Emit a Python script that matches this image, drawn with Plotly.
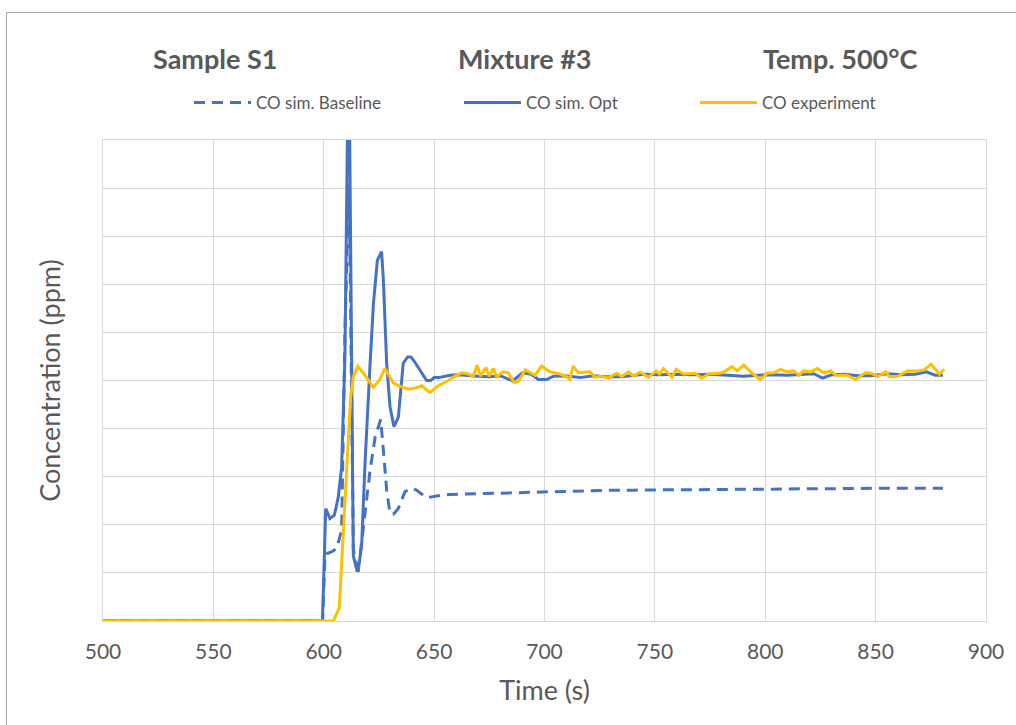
import plotly.graph_objects as go

# ---- data -------------------------------------------------------------
# CO simulation, baseline mechanism
base_t = [500, 599.5, 600.6, 602.0, 604.0, 605.9, 608.1, 609.6, 611.5, 613.4,
          615.4, 617.9, 621.0, 623.3, 625.8, 627.3, 628.5, 630.0, 631.5, 633.8,
          636.8, 639.8, 642.0, 646.6, 651.1, 657.2, 665.0, 672.3, 680, 690,
          700, 710, 720, 730, 740, 750, 760, 770, 780, 790,
          800, 810, 820, 830, 840, 850, 860, 870, 880.5]
base_v = [0, 0, 1.41, 1.41, 1.45, 1.51, 1.89, 6.05, 9.1, 1.5,
          0.95, 1.96, 3.14, 3.83, 4.19, 3.4, 2.72, 2.24, 2.22, 2.34,
          2.69, 2.76, 2.72, 2.56, 2.6, 2.63, 2.64, 2.65, 2.66, 2.67,
          2.68, 2.7, 2.71, 2.72, 2.72, 2.73, 2.73, 2.73, 2.74, 2.74,
          2.74, 2.75, 2.75, 2.75, 2.76, 2.76, 2.76, 2.76, 2.76]

# CO simulation, optimised mechanism
opt_t = [500, 599.4, 600.9, 602.8, 604.8, 606.6, 608.1, 609.6, 611.3, 613.4,
         614.8, 616.2, 617.2, 618.7, 621.0, 622.5, 624.3, 626.2, 627.0, 628.5,
         630.0, 631.8, 633.8, 636.0, 638.0, 639.5, 641.0, 643.6, 646.6, 648.5,
         650.0, 652.0, 657.2, 661.0, 666.0, 670.0, 675.0, 680.0, 685.6, 690.0,
         694.0, 697.2, 701.0, 704.0, 709.0, 716.1, 722.0, 728.0, 735.0, 745.0,
         752.0, 760.0, 767.0, 775.0, 783.0, 790.0, 797.0, 803.0, 810.0, 818.0,
         822.0, 825.9, 830.0, 836.0, 842.0, 848.0, 855.0, 862.0, 868.0, 873.0,
         877.0, 880.5]
opt_v = [0, 0, 2.34, 2.13, 2.2, 2.58, 3.2, 5.5, 12.5, 1.35,
         1.1, 1.25, 1.6, 3.28, 5.36, 6.6, 7.5, 7.68, 7.1, 5.36,
         4.46, 4.04, 4.24, 5.36, 5.49, 5.49, 5.4, 5.22, 5.0, 5.0,
         5.06, 5.06, 5.11, 5.12, 5.1, 5.09, 5.08, 5.1, 4.99, 5.16,
         5.13, 5.02, 5.02, 5.09, 5.1, 5.06, 5.1, 5.08, 5.08, 5.13,
         5.12, 5.13, 5.12, 5.13, 5.11, 5.09, 5.11, 5.12, 5.11, 5.12,
         5.14, 5.05, 5.12, 5.13, 5.1, 5.1, 5.14, 5.12, 5.13, 5.18,
         5.11, 5.11]

# CO measured
exp_t = [500, 604.3, 607.0, 608.9, 610.7, 612.2, 613.4, 615.4, 618.7, 622.4,
         625.2, 627.7, 631.5, 634.5, 638.3, 641.0, 644.4, 648.1, 651.9, 655.7,
         659.5, 662.5, 665.5, 667.7, 669.5, 671.0, 673.5, 675.0, 676.8, 678.3,
         681.3, 683.6, 686.2, 688.2, 691.2, 693.5, 695.8, 698.7, 702.5, 707.0,
         710.0, 711.5, 713.0, 715.3, 720.6, 722.8, 725.8, 728.9, 732.7, 735.0,
         738.0, 740.3, 743.3, 747.1, 750.6, 752.1, 753.9, 757.7, 759.6, 763.0,
         768.3, 771.3, 774.4, 779.6, 782.0, 785.0, 787.3, 790.3, 794.1, 797.8,
         800.9, 803.9, 806.9, 809.9, 812.9, 815.2, 817.5, 820.5, 823.5, 826.6,
         829.6, 831.9, 834.1, 837.1, 840.9, 845.4, 848.0, 850.9, 854.7, 856.2,
         860.0, 864.5, 869.0, 872.0, 875.1, 878.9, 881.1]
exp_v = [0, 0, 0.26, 1.89, 3.62, 4.66, 5.08, 5.30, 5.11, 4.86,
         5.0, 5.25, 4.95, 4.88, 4.82, 4.84, 4.89, 4.75, 4.89, 4.98,
         5.09, 5.16, 5.135, 5.08, 5.32, 5.09, 5.27, 5.09, 5.25, 5.08,
         5.18, 5.16, 4.96, 4.98, 5.22, 5.16, 5.11, 5.30, 5.18, 5.135,
         5.08, 5.02, 5.30, 5.16, 5.18, 5.07, 5.09, 5.05, 5.15, 5.08,
         5.18, 5.09, 5.17, 5.07, 5.20, 5.135, 5.25, 5.07, 5.23, 5.135,
         5.15, 5.05, 5.135, 5.15, 5.20, 5.29, 5.20, 5.32, 5.15, 5.02,
         5.15, 5.16, 5.23, 5.18, 5.20, 5.11, 5.20, 5.18, 5.25, 5.16,
         5.20, 5.11, 5.11, 5.11, 5.02, 5.16, 5.15, 5.08, 5.18, 5.08,
         5.09, 5.20, 5.20, 5.22, 5.34, 5.135, 5.23]

x_ticks = [500, 550, 600, 650, 700, 750, 800, 850, 900]
header_texts = ["Sample S1", "Mixture #3", "Temp. 500°C"]
series_names = ["CO sim. Baseline", "CO sim. Opt", "CO experiment"]

# ---- styling ----------------------------------------------------------
BLUE = "#4472C4"
GOLD = "#FFC000"
TEXT = "#595959"
GRID = "#D9D9D9"
FONT = "Lato"

W, H = 1016, 725
ML, MR, MT, MB = 103, 30, 140, 104
PW, PH = W - ML - MR, H - MT - MB


def px_x(p):
    return (p - ML) / PW


def px_y(p):
    return (H - MB - p) / PH


fig = go.Figure()
fig.add_trace(go.Scatter(x=base_t, y=base_v, mode="lines", name=series_names[0],
                         line=dict(color=BLUE, width=3, dash="11px,7px"),
                         showlegend=True, legend="legend"))
fig.add_trace(go.Scatter(x=opt_t, y=opt_v, mode="lines", name=series_names[1],
                         line=dict(color=BLUE, width=3),
                         showlegend=True, legend="legend2"))
fig.add_trace(go.Scatter(x=exp_t, y=exp_v, mode="lines", name=series_names[2],
                         line=dict(color=GOLD, width=3),
                         showlegend=True, legend="legend3"))

legend_common = dict(orientation="h", yanchor="middle", xanchor="left",
                     y=px_y(103), itemwidth=57, bgcolor="rgba(0,0,0,0)",
                     font=dict(family=FONT, size=17, color=TEXT))

header_x = [215, 525, 840]
annotations = [
    dict(text=f"<b>{t}</b>", x=px_x(cx), y=px_y(58), xref="paper", yref="paper",
         showarrow=False, xanchor="center", yanchor="middle",
         font=dict(family=FONT, size=27, color=TEXT))
    for t, cx in zip(header_texts, header_x)
]

fig.update_layout(
    width=W, height=H,
    margin=dict(l=ML, r=MR, t=MT, b=MB),
    paper_bgcolor="white", plot_bgcolor="white",
    font=dict(family=FONT, color=TEXT),
    showlegend=True,
    legend=dict(legend_common, x=px_x(189)),
    legend2=dict(legend_common, x=px_x(459)),
    legend3=dict(legend_common, x=px_x(695)),
    annotations=annotations,
    xaxis=dict(range=[500, 900], tickvals=x_ticks, showgrid=True,
               gridcolor=GRID, gridwidth=1, zeroline=False,
               showline=True, linecolor=GRID, linewidth=1, mirror=True,
               ticks="outside", ticklen=12, tickcolor="rgba(0,0,0,0)",
               tickfont=dict(family=FONT, size=21, color=TEXT),
               title=dict(text="Time (s)", standoff=18,
                          font=dict(family=FONT, size=27, color=TEXT))),
    yaxis=dict(range=[0, 10], dtick=1, showgrid=True, gridcolor=GRID,
               gridwidth=1, zeroline=False, showticklabels=False,
               showline=True, linecolor=GRID, linewidth=1, mirror=True,
               ticks="",
               title=dict(text="Concentration (ppm)", standoff=33,
                          font=dict(family=FONT, size=27, color=TEXT))),
    shapes=[
        dict(type="line", xref="paper", yref="paper",
             x0=px_x(6.5), x1=px_x(W + 5), y0=px_y(12.5), y1=px_y(12.5),
             line=dict(color="#A6A6A6", width=1)),
        dict(type="line", xref="paper", yref="paper",
             x0=px_x(6.5), x1=px_x(6.5), y0=px_y(12.5), y1=px_y(H + 5),
             line=dict(color="#A6A6A6", width=1)),
    ],
)

fig.write_html("out.html")
